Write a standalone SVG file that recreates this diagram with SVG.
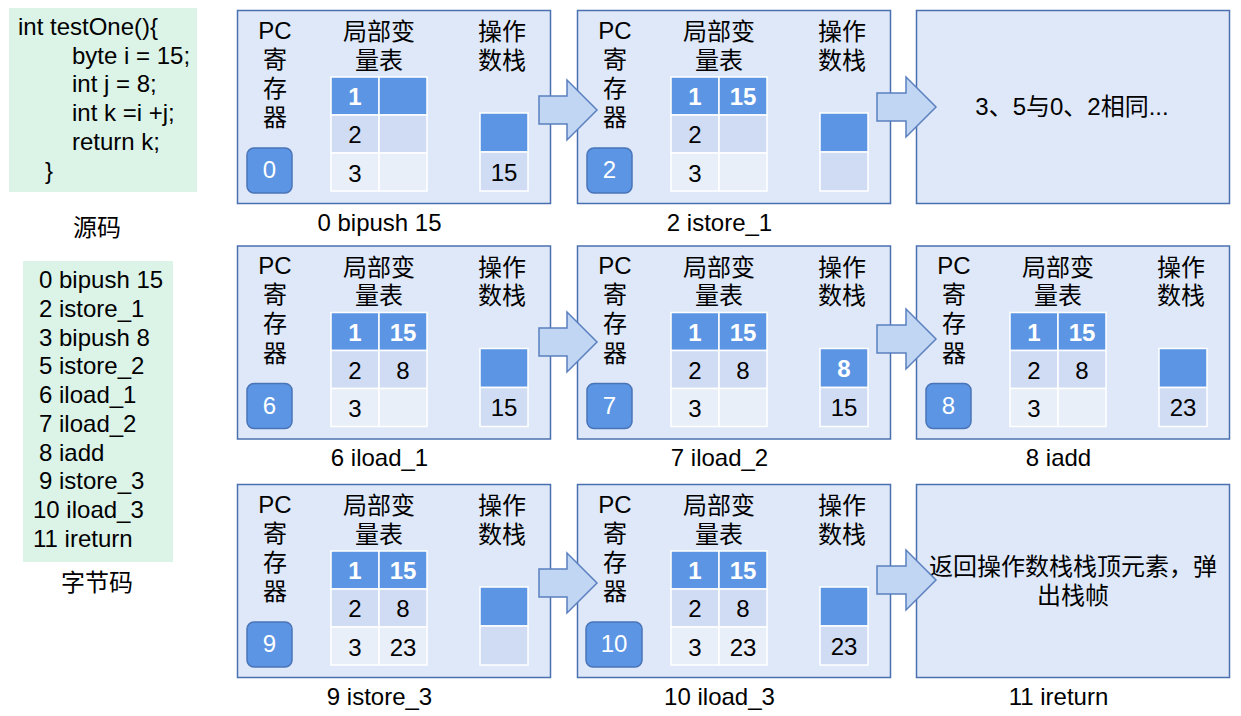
<svg xmlns="http://www.w3.org/2000/svg" width="1241" height="716" viewBox="0 0 1241 716">
<style>
text{font-family:"Liberation Sans","Noto Sans CJK SC",sans-serif;font-size:24px;fill:#000}
.c{text-anchor:middle}
.w{fill:#fff}
.b{font-weight:bold}
.panel{fill:#dee8f8;stroke:#4a70b0;stroke-width:1.5}
.code{fill:#dcf3e8}
.d{fill:#5b95e3;stroke:#fff;stroke-width:1.5}
.m{fill:#d0dcf4;stroke:#fff;stroke-width:1.5}
.l{fill:#e9eff9;stroke:#fff;stroke-width:1.5}
.pc{fill:#5b95e3;stroke:#4a74b8;stroke-width:1.5}
.arr{fill:#c1d6f3;stroke:#5b80c0;stroke-width:1.5}
</style>
<defs>
<g id="hdr">
<text class="c" x="275" y="38.5">PC<tspan x="275" y="67.7">寄</tspan><tspan x="275" y="96.9">存</tspan><tspan x="275" y="126.1">器</tspan></text>
<text class="c" x="379" y="40">局部变<tspan x="379" y="68.5">量表</tspan></text>
<text class="c" x="502" y="40">操作<tspan x="502" y="68.5">数栈</tspan></text>
</g>
<g id="tbl">
<rect class="d" x="331" y="77" width="48" height="38"/>
<rect class="d" x="379" y="77" width="48" height="38"/>
<rect class="m" x="331" y="115" width="48" height="38"/>
<rect class="m" x="379" y="115" width="48" height="38"/>
<rect class="l" x="331" y="153" width="48" height="38"/>
<rect class="l" x="379" y="153" width="48" height="38"/>
<text class="c w b" x="355" y="105">1</text>
<text class="c" x="355" y="143">2</text>
<text class="c" x="355" y="181.5">3</text>
<rect class="d" x="480" y="113" width="48" height="39"/>
<rect class="m" x="480" y="152" width="48" height="39"/>
</g>
</defs>

<g id="source">
<rect class="code" x="9" y="8" width="188" height="184"/>
<text x="18" y="35">int testOne(){</text>
<text x="72" y="63.7">byte i = 15;</text>
<text x="72" y="92.4">int j = 8;</text>
<text x="72" y="121">int k =i +j;</text>
<text x="72" y="149.8">return k;</text>
<text x="45" y="178.5">}</text>
<text class="c" x="97" y="236">源码</text>
</g>

<g id="bytecode">
<rect class="code" x="23" y="261" width="150" height="301"/>
<text x="39" y="288">0 bipush 15</text>
<text x="39" y="316.75">2 istore_1</text>
<text x="39" y="345.5">3 bipush 8</text>
<text x="39" y="374.25">5 istore_2</text>
<text x="39" y="403">6 iload_1</text>
<text x="39" y="431.75">7 iload_2</text>
<text x="39" y="460.5">8 iadd</text>
<text x="39" y="489.25">9 istore_3</text>
<text x="33" y="518">10 iload_3</text>
<text x="33" y="546.75">11 ireturn</text>
<text class="c" x="97" y="591">字节码</text>
</g>

<g id="p1">
<rect class="panel" x="237.5" y="10.5" width="313" height="193"/>
<use href="#hdr"/><use href="#tbl"/>
<rect class="pc" x="247" y="148" width="45" height="45" rx="7"/>
<text class="c w" x="269.5" y="178">0</text>
<text class="c" x="504" y="180.5">15</text>
<text class="c" x="379.5" y="230.5">0 bipush 15</text>
</g>

<g id="p2" transform="translate(340,0)">
<rect class="panel" x="237.5" y="10.5" width="313" height="193"/>
<use href="#hdr"/><use href="#tbl"/>
<text class="c w b" x="403" y="105">15</text>
<rect class="pc" x="247" y="148" width="45" height="45" rx="7"/>
<text class="c w" x="269.5" y="178">2</text>
<text class="c" x="379.5" y="230.5">2 istore_1</text>
</g>

<g id="p3" transform="translate(679,0)">
<rect class="panel" x="237.5" y="10.5" width="313" height="193"/>
<text class="c" x="393" y="115">3、5与0、2相同...</text>
</g>

<g id="p4" transform="translate(0,235.5)">
<rect class="panel" x="237.5" y="10.5" width="313" height="193"/>
<use href="#hdr"/><use href="#tbl"/>
<text class="c w b" x="403" y="105">15</text>
<text class="c" x="403" y="143">8</text>
<rect class="pc" x="247" y="148" width="45" height="45" rx="7"/>
<text class="c w" x="269.5" y="178">6</text>
<text class="c" x="504" y="180.5">15</text>
<text class="c" x="379.5" y="230.5">6 iload_1</text>
</g>

<g id="p5" transform="translate(340,235.5)">
<rect class="panel" x="237.5" y="10.5" width="313" height="193"/>
<use href="#hdr"/><use href="#tbl"/>
<text class="c w b" x="403" y="105">15</text>
<text class="c" x="403" y="143">8</text>
<text class="c w b" x="504" y="141">8</text>
<rect class="pc" x="247" y="148" width="45" height="45" rx="7"/>
<text class="c w" x="269.5" y="178">7</text>
<text class="c" x="504" y="180.5">15</text>
<text class="c" x="379.5" y="230.5">7 iload_2</text>
</g>

<g id="p6" transform="translate(679,235.5)">
<rect class="panel" x="237.5" y="10.5" width="313" height="193"/>
<use href="#hdr"/><use href="#tbl"/>
<text class="c w b" x="403" y="105">15</text>
<text class="c" x="403" y="143">8</text>
<rect class="pc" x="247" y="148" width="45" height="45" rx="7"/>
<text class="c w" x="269.5" y="178">8</text>
<text class="c" x="504" y="180.5">23</text>
<text class="c" x="379.5" y="230.5">8 iadd</text>
</g>

<g id="p7" transform="translate(0,474)">
<rect class="panel" x="237.5" y="10.5" width="313" height="193"/>
<use href="#hdr"/><use href="#tbl"/>
<text class="c w b" x="403" y="105">15</text>
<text class="c" x="403" y="143">8</text>
<text class="c" x="403" y="181.5">23</text>
<rect class="pc" x="247" y="148" width="45" height="45" rx="7"/>
<text class="c w" x="269.5" y="178">9</text>
<text class="c" x="379.5" y="230.5">9 istore_3</text>
</g>

<g id="p8" transform="translate(340,474)">
<rect class="panel" x="237.5" y="10.5" width="313" height="193"/>
<use href="#hdr"/><use href="#tbl"/>
<text class="c w b" x="403" y="105">15</text>
<text class="c" x="403" y="143">8</text>
<text class="c" x="403" y="181.5">23</text>
<rect class="pc" x="246" y="148" width="56" height="45" rx="7"/>
<text class="c w" x="274" y="178">10</text>
<text class="c" x="504" y="180.5">23</text>
<text class="c" x="379.5" y="230.5">10 iload_3</text>
</g>

<g id="p9" transform="translate(679,474)">
<rect class="panel" x="237.5" y="10.5" width="313" height="193"/>
<text class="c" x="394" y="101">返回操作数栈栈顶元素，弹</text>
<text class="c" x="394" y="130">出栈帧</text>
<text class="c" x="379.5" y="230.5">11 ireturn</text>
</g>

<g id="connectors">
<path class="arr" d="M539,96 H567 V80 L597,110 L567,140 V124 H539 Z"/>
<path class="arr" d="M877,93 H906 V77 L936,107 L906,137 V121 H877 Z"/>
<path class="arr" d="M539,328 H567 V312 L597,342 L567,372 V356 H539 Z"/>
<path class="arr" d="M877,325 H906 V309 L936,339 L906,369 V353 H877 Z"/>
<path class="arr" d="M539,569 H567 V553 L597,583 L567,613 V597 H539 Z"/>
<path class="arr" d="M877,566 H906 V550 L936,580 L906,610 V594 H877 Z"/>
</g>
</svg>
